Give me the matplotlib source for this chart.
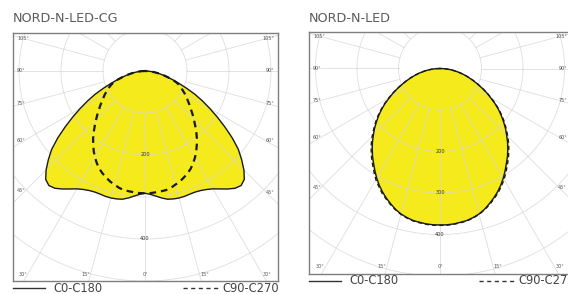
import numpy as np
import matplotlib.pyplot as plt

# angles measured from nadir (0 deg = straight down), intensity in cd
angles = [0, 2.5, 5, 7.5, 10, 12.5, 15, 17.5, 20, 22.5, 25, 27.5, 30, 32.5,
          35, 37.5, 40, 42.5, 45, 47.5, 50, 52.5, 55, 57.5, 60, 62.5, 65,
          67.5, 70, 72.5, 75, 77.5, 80, 82.5, 85, 87.5, 90]

cg_c0 = [291, 294, 299, 305, 310, 312, 313, 313, 312, 312, 314, 318, 324,
         333, 343, 352, 356, 350, 333, 312, 290, 262, 232, 204, 178, 154, 131,
         107, 86, 69, 55, 43, 33, 23, 15, 7, 0]
cg_c90 = [291, 291, 290, 289, 288, 285, 280, 276, 270, 264, 257, 248, 238,
          227, 215, 203, 190, 177, 165, 154, 143, 134, 125, 117, 110, 102, 95,
          88, 80, 68, 55, 44, 33, 23, 15, 7, 0]

led_c0 = [377, 377, 376, 374, 372, 368, 363, 356, 347, 338, 328, 317, 305,
          292, 279, 267, 254, 241, 227, 214, 200, 186, 172, 157, 141, 127, 112,
          98, 85, 73, 62, 51, 40, 30, 20, 10, 0]
led_c90 = [378, 378, 377, 375, 373, 369, 364, 357, 349, 340, 331, 320, 309,
           296, 283, 271, 258, 245, 231, 217, 203, 189, 174, 159, 143, 128,
           113, 99, 86, 74, 62, 51, 40, 30, 20, 10, 0]

ring_values = [100, 200, 300, 400, 500, 600, 700]
side_angles = [105, 90, 75, 60, 45]
bottom_angles = [-30, -15, 0, 15, 30]

W, H = 568, 294
YELLOW = "#f5ea1c"
GRID = "#d6d6d6"
TXT = "#555555"


def to_xy(ang, vals):
    """Mirror a symmetric half curve and turn it into x/y (cd)."""
    a = np.radians(np.array(ang, dtype=float))
    r = np.array(vals, dtype=float)
    a_full = np.concatenate([-a[::-1], a[1:]])
    r_full = np.concatenate([r[::-1], r[1:]])
    return r_full * np.sin(a_full), -r_full * np.cos(a_full)


def draw_panel(fig, box, center, scale, title, c0, c90, ring_labels,
               dash_lw):
    x0, y0, x1, y1 = box            # pixel box, y from the top
    cx, cy = center
    ax = fig.add_axes([x0 / W, (H - y1) / H, (x1 - x0) / W, (y1 - y0) / H])
    xmin, xmax = (x0 - cx) / scale, (x1 - cx) / scale
    ymin, ymax = -(y1 - cy) / scale, (cy - y0) / scale
    ax.set_xlim(xmin, xmax)
    ax.set_ylim(ymin, ymax)
    ax.set_xticks([])
    ax.set_yticks([])
    for sp in ax.spines.values():
        sp.set_color("#7f7f7f")
        sp.set_linewidth(1.0)

    xs, ys = to_xy(angles, c0)
    xd, yd = to_xy(angles, c90)
    ax.fill(xs, ys, color=YELLOW, zorder=1, lw=0)
    ax.fill(xd, yd, color=YELLOW, zorder=1, lw=0)

    # polar grid
    t = np.linspace(0, 2 * np.pi, 400)
    for rv in ring_values:
        ax.plot(rv * np.cos(t), rv * np.sin(t), color=GRID, lw=0.6,
                alpha=0.8, zorder=2)
    for a in np.radians(np.arange(0, 360, 15)):
        ax.plot([100 * np.sin(a), 900 * np.sin(a)],
                [-100 * np.cos(a), -900 * np.cos(a)],
                color=GRID, lw=0.6, alpha=0.8, zorder=2)

    ax.plot(xs, ys, color="#1a1a1a", lw=1.0, zorder=4)
    ax.plot(xd, yd, color="#1a1a1a", lw=dash_lw, ls=(0, (3, 2.2)), zorder=5)

    for rv in ring_labels:
        ax.text(0, -rv, str(rv), fontsize=3.6, color="#333333",
                ha="center", va="center", zorder=6)

    # angle labels on the sides
    inset = 12 / scale
    for a in side_angles:
        ar = np.radians(a)
        yl = -(abs(xmin) - inset) * np.cos(ar) / np.sin(ar)
        ax.text(xmin + 4 / scale, yl, f"{a}°", fontsize=3.5, color=TXT,
                ha="left", va="center", zorder=6)
        yr = -(abs(xmax) - inset) * np.cos(ar) / np.sin(ar)
        ax.text(xmax - 4 / scale, yr, f"{a}°", fontsize=3.5, color=TXT,
                ha="right", va="center", zorder=6)
    # angle labels on the bottom
    yb = ymin + 7 / scale
    for a in bottom_angles:
        xb = abs(yb) * np.tan(np.radians(a))
        xb += np.sign(a) * 5 / scale
        xb = min(max(xb, xmin + 8 / scale), xmax - 8 / scale)
        ax.text(xb, yb, f"{abs(a)}°", fontsize=3.5, color=TXT,
                ha="center", va="center", zorder=6)

    fig.text(x0 / W, 1 - 19 / H, title, fontsize=9.2, color="#5c5c5c",
             ha="left", va="center")

    # legend under the box
    ly = 1 - (y1 + 7) / H
    fig.add_artist(plt.Line2D([x0 / W, (x0 + 32) / W], [ly, ly],
                              color="#333333", lw=1.0))
    fig.text((x0 + 40) / W, ly, "C0-C180", fontsize=8.3, color="#444444",
             ha="left", va="center")
    fig.add_artist(plt.Line2D([(x0 + 170) / W, (x0 + 205) / W], [ly, ly],
                              color="#333333", lw=1.0, ls=(0, (3, 2.5))))
    fig.text((x0 + 209) / W, ly, "C90-C270", fontsize=8.3, color="#444444",
             ha="left", va="center")
    return ax


fig = plt.figure(figsize=(W / 100, H / 100), dpi=100)
fig.patch.set_facecolor("white")

draw_panel(fig, (13, 33, 278, 281), (145, 71), 0.42, "NORD-N-LED-CG",
           cg_c0, cg_c90, [200, 400], 1.6)
draw_panel(fig, (309, 32, 571, 274), (440, 68.5), 0.415, "NORD-N-LED",
           led_c0, led_c90, [200, 300, 400], 1.0)

fig.savefig("out.png", dpi=100)
